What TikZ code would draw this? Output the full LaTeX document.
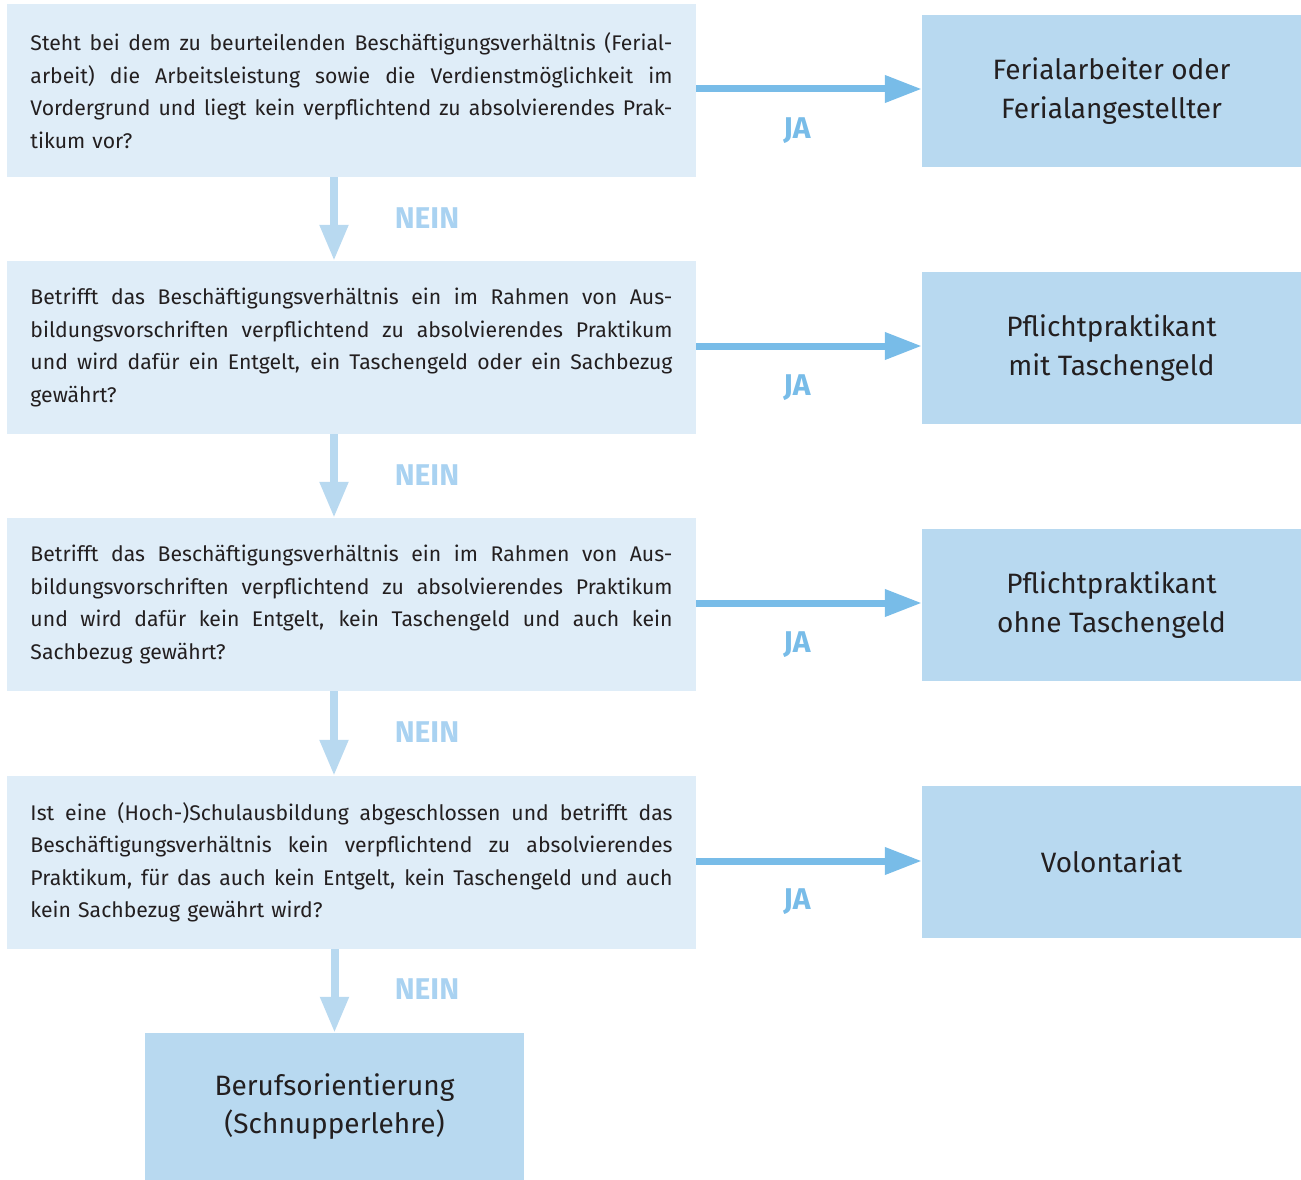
\documentclass[tikz,border=0pt]{standalone}
\usepackage{fontspec}
\setmainfont{Fira Sans}
\usetikzlibrary{arrows.meta}
\definecolor{qfill}{HTML}{DFEDF8}
\definecolor{rfill}{HTML}{B8D9F0}
\definecolor{jacol}{HTML}{78BCE8}
\definecolor{neincol}{HTML}{A9D2F1}
\definecolor{txt}{HTML}{231F20}
\newlength\qw
\setlength\qw{642pt}
\newcommand\jl[1]{\leavevmode\hbox to\qw{\spaceskip=.25em plus 1em minus .05em\xspaceskip=0pt #1}}
\tikzset{
  qbox/.style={fill=qfill, draw=none, minimum width=689pt, minimum height=173pt, inner sep=0pt,
    text=txt, font=\fontsize{21.2}{32.5}\selectfont, align=left, text width=642pt},
  rbox/.style={fill=rfill, draw=none, minimum width=379pt, minimum height=152pt, inner sep=0pt,
    text=txt, font=\fontsize{28}{38.5}\selectfont, align=center},
  jaarrow/.style={draw=jacol, line width=7pt, -{Triangle[length=37pt,width=26pt]}},
  neinarrow/.style={draw=rfill, line width=8pt, -{Triangle[length=36pt,width=27pt]}},
  jalab/.style={text=jacol, font=\fontsize{30}{30}\selectfont\bfseries},
  neinlab/.style={text=neincol, font=\fontsize{30}{30}\selectfont\bfseries},
}
\begin{document}
\begin{tikzpicture}[x=1pt,y=-1pt]
\useasboundingbox (0,0) rectangle (1301,1180);
% question boxes
\node[qbox] (q1) at (351.5,90.5) {\jl{Steht bei dem zu beurteilenden Beschäftigungsverhältnis (Ferial-}\\\jl{arbeit) die Arbeitsleistung sowie die Verdienstmöglichkeit im}\\\jl{Vordergrund und liegt kein verpflichtend zu absolvierendes Prak-}\\tikum vor?};
\node[qbox] (q2) at (351.5,347.5) {\jl{Betrifft das Beschäftigungsverhältnis ein im Rahmen von Aus-}\\\jl{bildungsvorschriften verpflichtend zu absolvierendes Praktikum}\\\jl{und wird dafür ein Entgelt, ein Taschengeld oder ein Sachbezug}\\gewährt?};
\node[qbox] (q3) at (351.5,604.5) {\jl{Betrifft das Beschäftigungsverhältnis ein im Rahmen von Aus-}\\\jl{bildungsvorschriften verpflichtend zu absolvierendes Praktikum}\\\jl{und wird dafür kein Entgelt, kein Taschengeld und auch kein}\\Sachbezug gewährt?};
\node[qbox] (q4) at (351.5,862.5) {\jl{Ist eine (Hoch-)Schulausbildung abgeschlossen und betrifft das}\\\jl{Beschäftigungsverhältnis kein verpflichtend zu absolvierendes}\\\jl{Praktikum, für das auch kein Entgelt, kein Taschengeld und auch}\\kein Sachbezug gewährt wird?};
% result boxes
\node[rbox] (r1) at (1111.5,91) {Ferialarbeiter oder\\Ferialangestellter};
\node[rbox] (r2) at (1111.5,348) {Pflichtpraktikant\\mit Taschengeld};
\node[rbox] (r3) at (1111.5,605) {Pflichtpraktikant\\ohne Taschengeld};
\node[rbox] (r4) at (1111.5,862) {Volontariat};
\node[rbox, minimum height=147pt] (r5) at (334.5,1106.5) {Berufsorientierung\\(Schnupperlehre)};
% JA arrows
\foreach \i in {1,...,4}{
  \draw[jaarrow] ([yshift=1.5pt]q\i.east) -- ([yshift=1.5pt]q\i.east -| r\i.west);
}
\node[jalab] (ja1) at (797,131) {JA};
\node[jalab] (ja2) at (797,388) {JA};
\node[jalab] (ja3) at (797,645) {JA};
\node[jalab] (ja4) at (797,902) {JA};
% NEIN arrows
\draw[neinarrow] ([xshift=-17.5pt]q1.south) -- ([xshift=-17.5pt]q1.south |- q2.north);
\draw[neinarrow] ([xshift=-17.5pt]q2.south) -- ([xshift=-17.5pt]q2.south |- q3.north);
\draw[neinarrow] ([xshift=-17.5pt]q3.south) -- ([xshift=-17.5pt]q3.south |- q4.north);
\draw[neinarrow] (r5.north |- q4.south) -- (r5.north);
\node[neinlab] (n1) at (427,218) {NEIN};
\node[neinlab] (n2) at (427,475) {NEIN};
\node[neinlab] (n3) at (427,732) {NEIN};
\node[neinlab] (n4) at (427,989) {NEIN};
\end{tikzpicture}
\end{document}
